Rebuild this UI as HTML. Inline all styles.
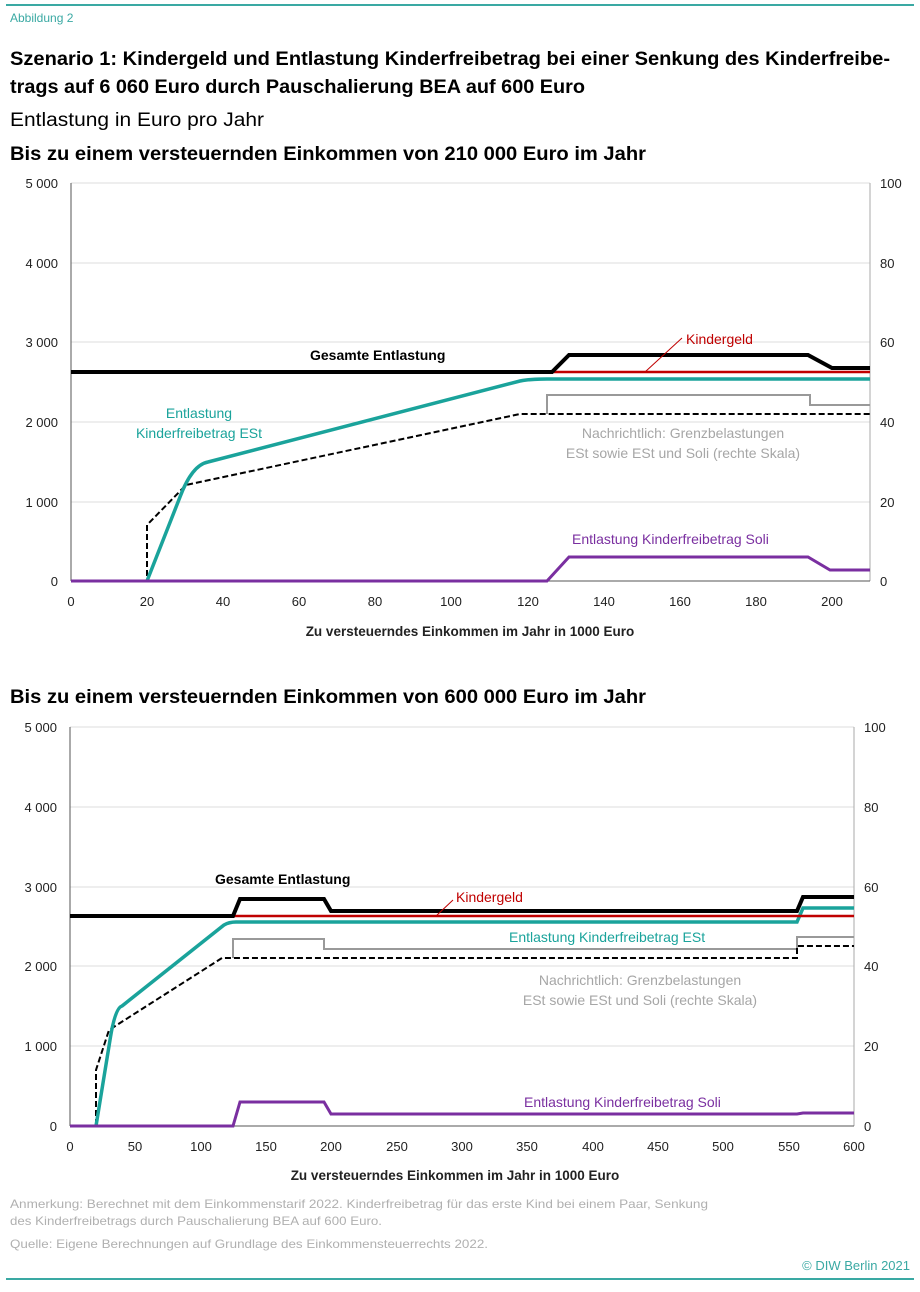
<!DOCTYPE html>
<html><head><meta charset="utf-8"><style>
body{margin:0;background:#fff;width:920px;height:1287px;overflow:hidden;font-family:"Liberation Sans",sans-serif}
svg text{font-family:"Liberation Sans",sans-serif}
</style></head><body>
<svg width="920" height="1287" viewBox="0 0 920 1287" xmlns="http://www.w3.org/2000/svg">
<line x1="6" y1="5" x2="914" y2="5" stroke="#3aa9a3" stroke-width="2"/>
<line x1="6" y1="1279" x2="914" y2="1279" stroke="#3aa9a3" stroke-width="2"/>
<text x="10" y="22" font-size="12" fill="#3aa9a3">Abbildung 2</text>
<text x="10" y="65" font-size="19" font-weight="bold" textLength="880" lengthAdjust="spacingAndGlyphs">Szenario 1: Kindergeld und Entlastung Kinderfreibetrag bei einer Senkung des Kinderfreibe-</text>
<text x="10" y="93" font-size="19" font-weight="bold" textLength="575" lengthAdjust="spacingAndGlyphs">trags auf 6 060 Euro durch Pauschalierung BEA auf 600 Euro</text>
<text x="10" y="126" font-size="19" textLength="254" lengthAdjust="spacingAndGlyphs">Entlastung in Euro pro Jahr</text>
<text x="10" y="160" font-size="19" font-weight="bold" textLength="636" lengthAdjust="spacingAndGlyphs">Bis zu einem versteuernden Einkommen von 210 000 Euro im Jahr</text>

<!-- TOP CHART -->
<g font-size="13" fill="#222">
<g stroke="#ddd" stroke-width="1">
<line x1="71" y1="183" x2="870" y2="183"/><line x1="71" y1="263" x2="870" y2="263"/><line x1="71" y1="342" x2="870" y2="342"/><line x1="71" y1="422" x2="870" y2="422"/><line x1="71" y1="502" x2="870" y2="502"/>
</g>
<line x1="71" y1="183" x2="71" y2="581" stroke="#555"/>
<line x1="870" y1="183" x2="870" y2="581" stroke="#aaa"/>
<line x1="71" y1="581" x2="870" y2="581" stroke="#555"/>
<g text-anchor="end"><text x="58" y="188">5 000</text><text x="58" y="268">4 000</text><text x="58" y="347">3 000</text><text x="58" y="427">2 000</text><text x="58" y="507">1 000</text><text x="58" y="586">0</text></g>
<g><text x="880" y="188">100</text><text x="880" y="268">80</text><text x="880" y="347">60</text><text x="880" y="427">40</text><text x="880" y="507">20</text><text x="880" y="586">0</text></g>
<g text-anchor="middle"><text x="71" y="606">0</text><text x="147" y="606">20</text><text x="223" y="606">40</text><text x="299" y="606">60</text><text x="375" y="606">80</text><text x="451" y="606">100</text><text x="528" y="606">120</text><text x="604" y="606">140</text><text x="680" y="606">160</text><text x="756" y="606">180</text><text x="832" y="606">200</text></g>
<text x="470" y="636" text-anchor="middle" font-weight="bold" font-size="13.5">Zu versteuerndes Einkommen im Jahr in 1000 Euro</text>
</g>
<polyline fill="none" stroke="#999" stroke-width="2" points="547,414 547,395 810,395 810,405 870,405"/>
<polyline fill="none" stroke="#000" stroke-width="2" stroke-dasharray="6,3" points="71,581 147,581 147,525 186,485 520,414 870,414"/>
<path fill="none" stroke="#1aa39b" stroke-width="3.5" d="M147,581 L180,497 Q192,465 208,462 L520,381 Q530,379 547,379 L870,379"/>
<polyline fill="none" stroke="#c00000" stroke-width="2.5" points="547,372 870,372"/>
<polyline fill="none" stroke="#000" stroke-width="4" points="71,372 552,372 569,355 808,355 832,368 870,368"/>
<polyline fill="none" stroke="#7a2fa0" stroke-width="3" points="71,581 547,581 569,557 808,557 830,570 870,570"/>
<line x1="645" y1="372" x2="682" y2="338" stroke="#c00000" stroke-width="1"/>
<text x="686" y="344" font-size="14" fill="#c00000">Kindergeld</text>
<text x="310" y="360" font-size="14" font-weight="bold">Gesamte Entlastung</text>
<text x="199" y="418" font-size="14" fill="#1aa39b" text-anchor="middle">Entlastung</text>
<text x="199" y="438" font-size="14" fill="#1aa39b" text-anchor="middle">Kinderfreibetrag ESt</text>
<text x="683" y="438" font-size="14" fill="#a6a6a6" text-anchor="middle">Nachrichtlich: Grenzbelastungen</text>
<text x="683" y="458" font-size="14" fill="#a6a6a6" text-anchor="middle">ESt sowie ESt und Soli (rechte Skala)</text>
<text x="572" y="544" font-size="14" fill="#7a2fa0">Entlastung Kinderfreibetrag Soli</text>

<text x="10" y="703" font-size="19" font-weight="bold" textLength="636" lengthAdjust="spacingAndGlyphs">Bis zu einem versteuernden Einkommen von 600 000 Euro im Jahr</text>

<!-- BOTTOM CHART -->
<g font-size="13" fill="#222">
<g stroke="#ddd" stroke-width="1">
<line x1="70" y1="727" x2="854" y2="727"/><line x1="70" y1="807" x2="854" y2="807"/><line x1="70" y1="887" x2="854" y2="887"/><line x1="70" y1="966" x2="854" y2="966"/><line x1="70" y1="1046" x2="854" y2="1046"/>
</g>
<line x1="70" y1="727" x2="70" y2="1126" stroke="#555"/>
<line x1="854" y1="727" x2="854" y2="1126" stroke="#aaa"/>
<line x1="70" y1="1126" x2="854" y2="1126" stroke="#555"/>
<g text-anchor="end"><text x="57" y="732">5 000</text><text x="57" y="812">4 000</text><text x="57" y="892">3 000</text><text x="57" y="971">2 000</text><text x="57" y="1051">1 000</text><text x="57" y="1131">0</text></g>
<g><text x="864" y="732">100</text><text x="864" y="812">80</text><text x="864" y="892">60</text><text x="864" y="971">40</text><text x="864" y="1051">20</text><text x="864" y="1131">0</text></g>
<g text-anchor="middle"><text x="70" y="1151">0</text><text x="135" y="1151">50</text><text x="201" y="1151">100</text><text x="266" y="1151">150</text><text x="331" y="1151">200</text><text x="397" y="1151">250</text><text x="462" y="1151">300</text><text x="527" y="1151">350</text><text x="593" y="1151">400</text><text x="658" y="1151">450</text><text x="723" y="1151">500</text><text x="789" y="1151">550</text><text x="854" y="1151">600</text></g>
<text x="455" y="1180" text-anchor="middle" font-weight="bold" font-size="13.5">Zu versteuerndes Einkommen im Jahr in 1000 Euro</text>
</g>
<polyline fill="none" stroke="#999" stroke-width="2" points="233,958 233,939 324,939 324,949 797,949 797,937 854,937"/>
<polyline fill="none" stroke="#000" stroke-width="2" stroke-dasharray="6,3" points="70,1126 96,1126 96,1070 109,1030 222,958 797,958 797,946 854,946"/>
<path fill="none" stroke="#1aa39b" stroke-width="3.5" d="M96,1126 L110,1040 Q115,1008 122,1006 L224,925 Q229,922 236,922 L797,922 L803,908 L854,908"/>
<polyline fill="none" stroke="#c00000" stroke-width="2.5" points="233,916 854,916"/>
<polyline fill="none" stroke="#000" stroke-width="4" points="70,916 233,916 240,899 324,899 331,911 797,911 803,897 854,897"/>
<polyline fill="none" stroke="#7a2fa0" stroke-width="3" points="70,1126 233,1126 240,1102 324,1102 331,1114 797,1114 803,1113 854,1113"/>
<line x1="436" y1="916" x2="453" y2="900" stroke="#c00000" stroke-width="1"/>
<text x="456" y="902" font-size="14" fill="#c00000">Kindergeld</text>
<text x="215" y="884" font-size="14" font-weight="bold">Gesamte Entlastung</text>
<text x="509" y="942" font-size="14" fill="#1aa39b">Entlastung Kinderfreibetrag ESt</text>
<text x="640" y="985" font-size="14" fill="#a6a6a6" text-anchor="middle">Nachrichtlich: Grenzbelastungen</text>
<text x="640" y="1005" font-size="14" fill="#a6a6a6" text-anchor="middle">ESt sowie ESt und Soli (rechte Skala)</text>
<text x="524" y="1107" font-size="14" fill="#7a2fa0">Entlastung Kinderfreibetrag Soli</text>

<text x="10" y="1208" font-size="12" fill="#b0b0b0" textLength="698" lengthAdjust="spacingAndGlyphs">Anmerkung: Berechnet mit dem Einkommenstarif 2022. Kinderfreibetrag für das erste Kind bei einem Paar, Senkung</text>
<text x="10" y="1225" font-size="12" fill="#b0b0b0" textLength="372" lengthAdjust="spacingAndGlyphs">des Kinderfreibetrags durch Pauschalierung BEA auf 600 Euro.</text>
<text x="10" y="1248" font-size="12" fill="#b0b0b0" textLength="478" lengthAdjust="spacingAndGlyphs">Quelle: Eigene Berechnungen auf Grundlage des Einkommensteuerrechts 2022.</text>
<text x="910" y="1270" font-size="13" fill="#3aa9a3" text-anchor="end">© DIW Berlin 2021</text>
</svg>
</body></html>
